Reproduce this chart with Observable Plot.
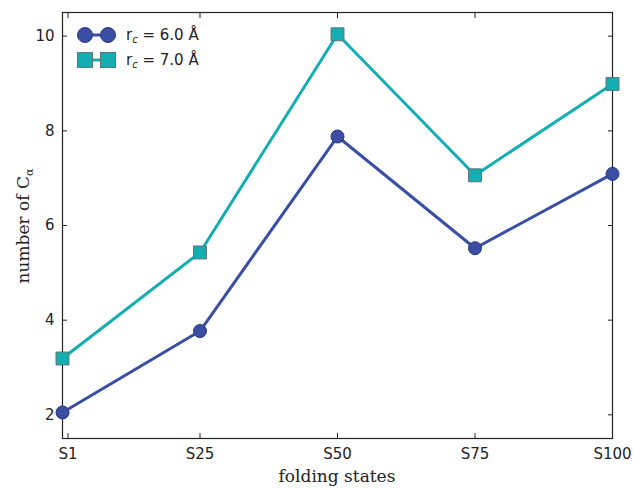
<!DOCTYPE html>
<html><head><meta charset="utf-8">
<script src="https://cdn.jsdelivr.net/npm/d3@7"></script>
<script src="https://cdn.jsdelivr.net/npm/@observablehq/plot@0.6"></script>
<style>body{margin:0;background:#fff} #chart{width:633px;height:488px}</style>
</head><body><div id="chart"></div>
<script>
const states = ["S1","S25","S50","S75","S100"];
const statePos = [0,25,50,75,100];
const tickPos = [1,25,50,75,100];
const rc6 = [2.05,3.77,7.88,5.52,7.09];
const rc7 = [3.19,5.43,10.04,7.06,8.99];
const yTicks = [2,4,6,8,10];
const seriesLabels = [" = 6.0 Å"," = 7.0 Å"];
const blue = "#3a4fa2", blueEdge = "#27377f";
const teal = "#14adb1", tealEdge = "#5f7677";

const d6 = statePos.map((x,i)=>({x, y: rc6[i]}));
const d7 = statePos.map((x,i)=>({x, y: rc7[i]}));
const ink = "#222";
const svg = Plot.plot({
  width: 633, height: 488,
  marginLeft: 62, marginRight: 21, marginTop: 12, marginBottom: 50,
  style: {fontFamily: "DejaVu Sans", fontSize: "15px", color: ink, background: "#fff"},
  x: {domain: [0,100]},
  y: {domain: [1.5,10.5]},
  marks: [
    Plot.frame({stroke: ink, strokeWidth: 1.2}),
    Plot.axisX(tickPos, {anchor:"bottom", tickSize:0, tickPadding:10, tickFormat:(d)=>states[tickPos.indexOf(d)], fontSize:15, label:null}),
    Plot.axisX(tickPos, {anchor:"bottom", tickSize:5, dy:-5, tickFormat:()=>"", label:null}),
    Plot.axisX(tickPos, {anchor:"top", tickSize:5, dy:5, tickFormat:()=>"", label:null}),
    Plot.axisY(yTicks, {anchor:"left", tickSize:0, tickPadding:8, fontSize:15, label:null}),
    Plot.axisY(yTicks, {anchor:"left", tickSize:5, dx:5, tickFormat:()=>"", label:null}),
    Plot.axisY(yTicks, {anchor:"right", tickSize:5, dx:-5, tickFormat:()=>"", label:null}),
    Plot.line(d6, {x:"x", y:"y", stroke: blue, strokeWidth: 3}),
    Plot.dot(d6, {x:"x", y:"y", r: 6.5, fill: blue, stroke: blueEdge, strokeWidth: 1}),
    Plot.line(d7, {x:"x", y:"y", stroke: teal, strokeWidth: 3}),
    Plot.dot(d7, {x:"x", y:"y", symbol:"square", r: 7.3, fill: teal, stroke: tealEdge, strokeWidth: 1})
  ]
});
document.getElementById("chart").appendChild(svg);
const s = d3.select(svg);
// axis titles
s.append("text").attr("x", 337).attr("y", 482).attr("text-anchor","middle")
  .attr("font-family","DejaVu Serif").attr("font-size",17).attr("fill",ink).text("folding states");
const yl = s.append("text").attr("transform","translate(29,226) rotate(-90)").attr("text-anchor","middle")
  .attr("font-family","DejaVu Serif").attr("font-size",17).attr("fill",ink);
yl.append("tspan").text("number of C");
yl.append("tspan").attr("font-size",11).attr("dy",4).text("α");
// legend
const lg = s.append("g").attr("text-anchor","start");
const rows = [{y:35, c:blue, e:blueEdge, sym:"circle", t:seriesLabels[0]},{y:60, c:teal, e:tealEdge, sym:"square", t:seriesLabels[1]}];
rows.forEach(r=>{
  lg.append("line").attr("x1",85).attr("x2",108).attr("y1",r.y).attr("y2",r.y).attr("stroke",r.c).attr("stroke-width",3);
  [85,108].forEach(cx=>{
    if(r.sym==="circle") lg.append("circle").attr("cx",cx).attr("cy",r.y).attr("r",7.5).attr("fill",r.c).attr("stroke",r.e);
    else lg.append("rect").attr("x",cx-7.5).attr("y",r.y-7.5).attr("width",15).attr("height",15).attr("fill",r.c).attr("stroke",r.e);
  });
  const t = lg.append("text").attr("x",126).attr("y",r.y+5).attr("text-anchor","start").attr("font-family","DejaVu Sans").attr("font-size",15).attr("fill",ink);
  t.append("tspan").text("r");
  t.append("tspan").attr("font-size",10).attr("font-style","italic").attr("dy",3).text("c");
  t.append("tspan").attr("dy",-3).text(r.t);
});
</script></body></html>
